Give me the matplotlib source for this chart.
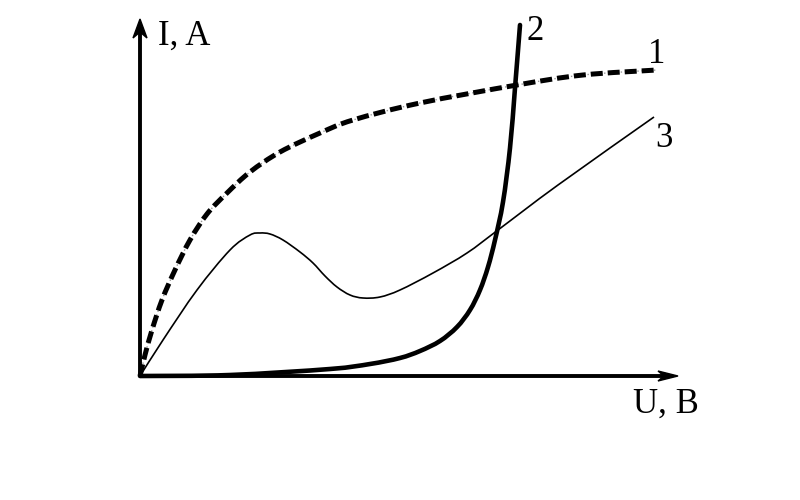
import numpy as np
import matplotlib.pyplot as plt
from matplotlib.patches import Polygon, PathPatch
from matplotlib.path import Path

# curve 1 (dash-dot), origin at the axes corner
u1 = [0, 5, 12, 22, 35, 50, 67, 87, 110, 140, 180, 213, 280, 377, 443, 517]
i1 = [0, 21, 46, 76, 106, 136, 162, 183, 204, 224, 243, 256, 273, 291, 301, 306]

# curve 2 (thick, sharp rise)
u2 = [0, 90, 190, 230, 260, 280, 300, 317, 330, 340, 348, 355, 363, 370, 375, 380]
i2 = [0, 1, 7, 12, 18, 25, 35, 49, 66, 86, 109, 136, 174, 228, 288, 351]

# curve 3 (thin, with a hump)
u3 = [0, 23, 57, 90, 110, 120, 130, 143, 160, 173, 185, 197, 210, 223, 240, 260, 293, 327, 358, 418, 514]
i3 = [0, 36, 86, 126, 141, 143, 142, 136, 124, 113, 100, 89, 81, 78, 79, 86, 103, 123, 146, 191, 259]

curve_labels = ["1", "2", "3"]
label_pos = [(508, 313), (386, 336), (515, 229)]

# axis extents
x_end = 538
y_end = 357

serif = ["Liberation Serif", "DejaVu Serif"]


# smooth path through the given points (Catmull-Rom as cubic Bezier)
def smooth_path(xs, ys):
    p = np.column_stack([xs, ys]).astype(float)
    ext = np.vstack([p[0], p, p[-1]])
    verts = [p[0]]
    codes = [Path.MOVETO]
    for k in range(1, len(ext) - 2):
        p0, p1, p2, p3 = ext[k - 1], ext[k], ext[k + 1], ext[k + 2]
        verts += [p1 + (p2 - p0) / 6, p2 - (p3 - p1) / 6, p2]
        codes += [Path.CURVE4] * 3
    return Path(verts, codes)


fig = plt.figure(figsize=(8, 5), dpi=100)
ax = fig.add_axes([0, 0, 1, 1])
ax.set_xlim(-140, 660)
ax.set_ylim(-124, 376)
ax.axis('off')

# axes with arrowheads
ax.plot([0, x_end - 10], [0, 0], color='black', lw=2.8, solid_capstyle='butt')
ax.plot([0, 0], [0, y_end - 10], color='black', lw=2.8, solid_capstyle='butt')
ax.add_patch(Polygon([(x_end, 0), (x_end - 20, 5), (x_end - 14, 0), (x_end - 20, -5)],
                     closed=True, color='black'))
ax.add_patch(Polygon([(0, y_end), (-7, y_end - 19), (0, y_end - 13), (7, y_end - 19)],
                     closed=True, color='black'))

# curves
ax.add_patch(PathPatch(smooth_path(u1, i1), fill=False, edgecolor='0.6', lw=1.0,
                       linestyle=(0, (1, 2))))
ax.add_patch(PathPatch(smooth_path(u1, i1), fill=False, edgecolor='black', lw=3.6,
                       linestyle=(0, (2.4, 1.0)), capstyle='butt'))
ax.add_patch(PathPatch(smooth_path(u2, i2), fill=False, edgecolor='black', lw=3.3,
                       capstyle='round', joinstyle='round'))
ax.add_patch(PathPatch(smooth_path(u3, i3), fill=False, edgecolor='black', lw=1.2,
                       joinstyle='round'))

# labels
ax.text(18, 331, "I, A", family=serif, fontsize=25, ha='left', va='baseline')
ax.text(493, -37, "U, B", family=serif, fontsize=25, ha='left', va='baseline')
for lab, (x, y) in zip(curve_labels, label_pos):
    ax.text(x, y, lab, family=serif, fontsize=25, ha='left', va='baseline')

fig.savefig('out.png', dpi=100)
